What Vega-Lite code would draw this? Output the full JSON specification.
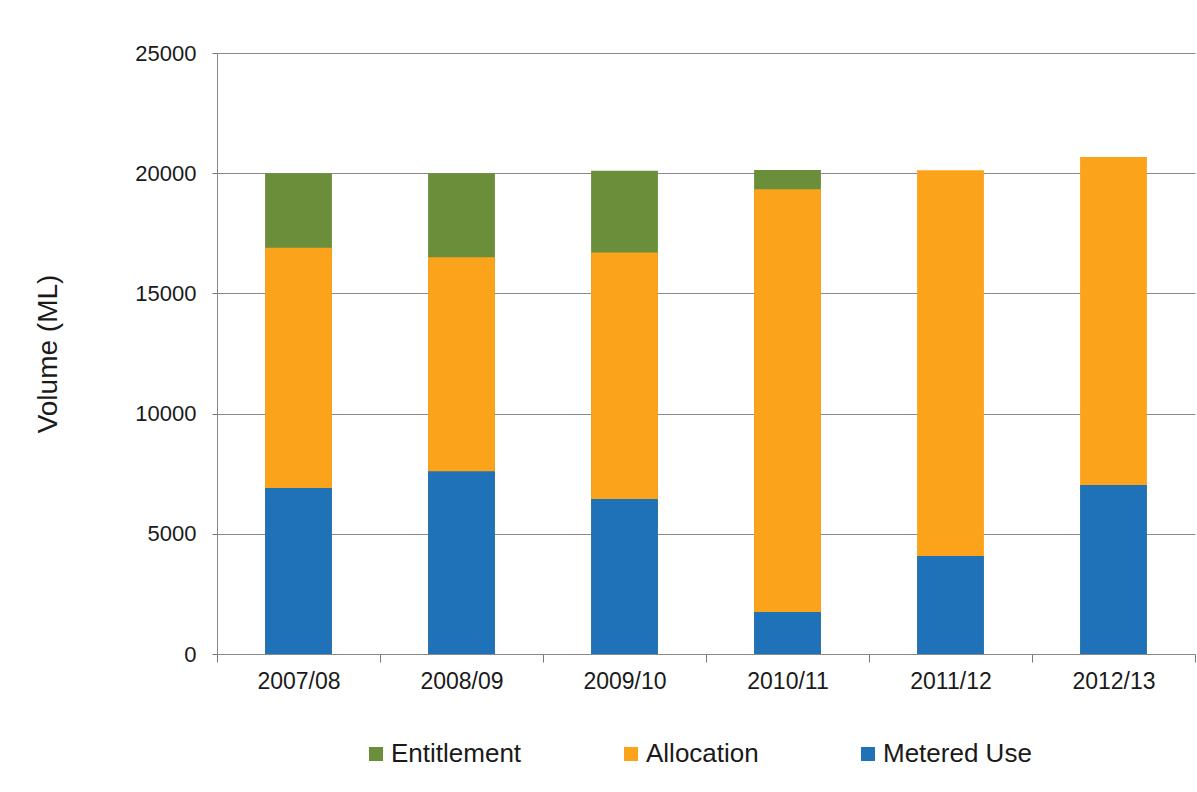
{
  "$schema": "https://vega.github.io/schema/vega-lite/v6.json",
  "autosize": {"type": "none"},
  "width": 978,
  "height": 601,
  "padding": {"left": 217, "top": 53, "right": 2, "bottom": 138},
  "background": "white",
  "data": {
    "values": [
      {"year": "2007/08", "series": "Entitlement", "volume": 20000},
      {"year": "2008/09", "series": "Entitlement", "volume": 20000},
      {"year": "2009/10", "series": "Entitlement", "volume": 20100},
      {"year": "2010/11", "series": "Entitlement", "volume": 20130},
      {"year": "2007/08", "series": "Allocation", "volume": 16900},
      {"year": "2008/09", "series": "Allocation", "volume": 16500},
      {"year": "2009/10", "series": "Allocation", "volume": 16700},
      {"year": "2010/11", "series": "Allocation", "volume": 19330},
      {"year": "2011/12", "series": "Allocation", "volume": 20120},
      {"year": "2012/13", "series": "Allocation", "volume": 20670},
      {"year": "2007/08", "series": "Metered Use", "volume": 6900},
      {"year": "2008/09", "series": "Metered Use", "volume": 7600},
      {"year": "2009/10", "series": "Metered Use", "volume": 6450},
      {"year": "2010/11", "series": "Metered Use", "volume": 1750},
      {"year": "2011/12", "series": "Metered Use", "volume": 4080},
      {"year": "2012/13", "series": "Metered Use", "volume": 7030}
    ]
  },
  "mark": {"type": "bar", "width": {"band": 0.41}},
  "encoding": {
    "x": {
      "field": "year",
      "type": "nominal",
      "sort": null,
      "scale": {"paddingInner": 0, "paddingOuter": 0},
      "axis": {
        "title": null,
        "labelAngle": 0,
        "labelFontSize": 23,
        "labelPadding": 8,
        "tickBand": "extent",
        "tickSize": 8,
        "tickColor": "#777",
        "domainColor": "#888",
        "labelColor": "#1a1a1a"
      }
    },
    "y": {
      "field": "volume",
      "type": "quantitative",
      "stack": null,
      "scale": {"domain": [0, 25000]},
      "axis": {
        "title": "Volume (ML)",
        "titleFontSize": 28,
        "titleFontWeight": "normal",
        "titleColor": "#1a1a1a",
        "titlePadding": 72,
        "values": [0, 5000, 10000, 15000, 20000, 25000],
        "format": "d",
        "labelFontSize": 22,
        "labelPadding": 16,
        "labelColor": "#1a1a1a",
        "tickSize": 5,
        "tickColor": "#777",
        "domainColor": "#888",
        "grid": true,
        "gridColor": "#8a8a8a",
        "gridWidth": 1
      }
    },
    "color": {
      "field": "series",
      "type": "nominal",
      "scale": {
        "domain": ["Entitlement", "Allocation", "Metered Use"],
        "range": ["#6b8e3b", "#fca31c", "#1f72b8"]
      },
      "legend": {
        "title": null,
        "orient": "none",
        "direction": "horizontal",
        "legendX": 146,
        "legendY": 688,
        "symbolType": "square",
        "symbolSize": 196,
        "symbolStrokeWidth": 0,
        "labelFontSize": 26,
        "labelColor": "#1a1a1a",
        "labelOffset": 2,
        "columnPadding": 96
      }
    }
  },
  "config": {
    "font": "Liberation Sans",
    "view": {"stroke": null},
    "axis": {"labelFont": "Liberation Sans", "titleFont": "Liberation Sans"},
    "legend": {"labelFont": "Liberation Sans"}
  }
}
